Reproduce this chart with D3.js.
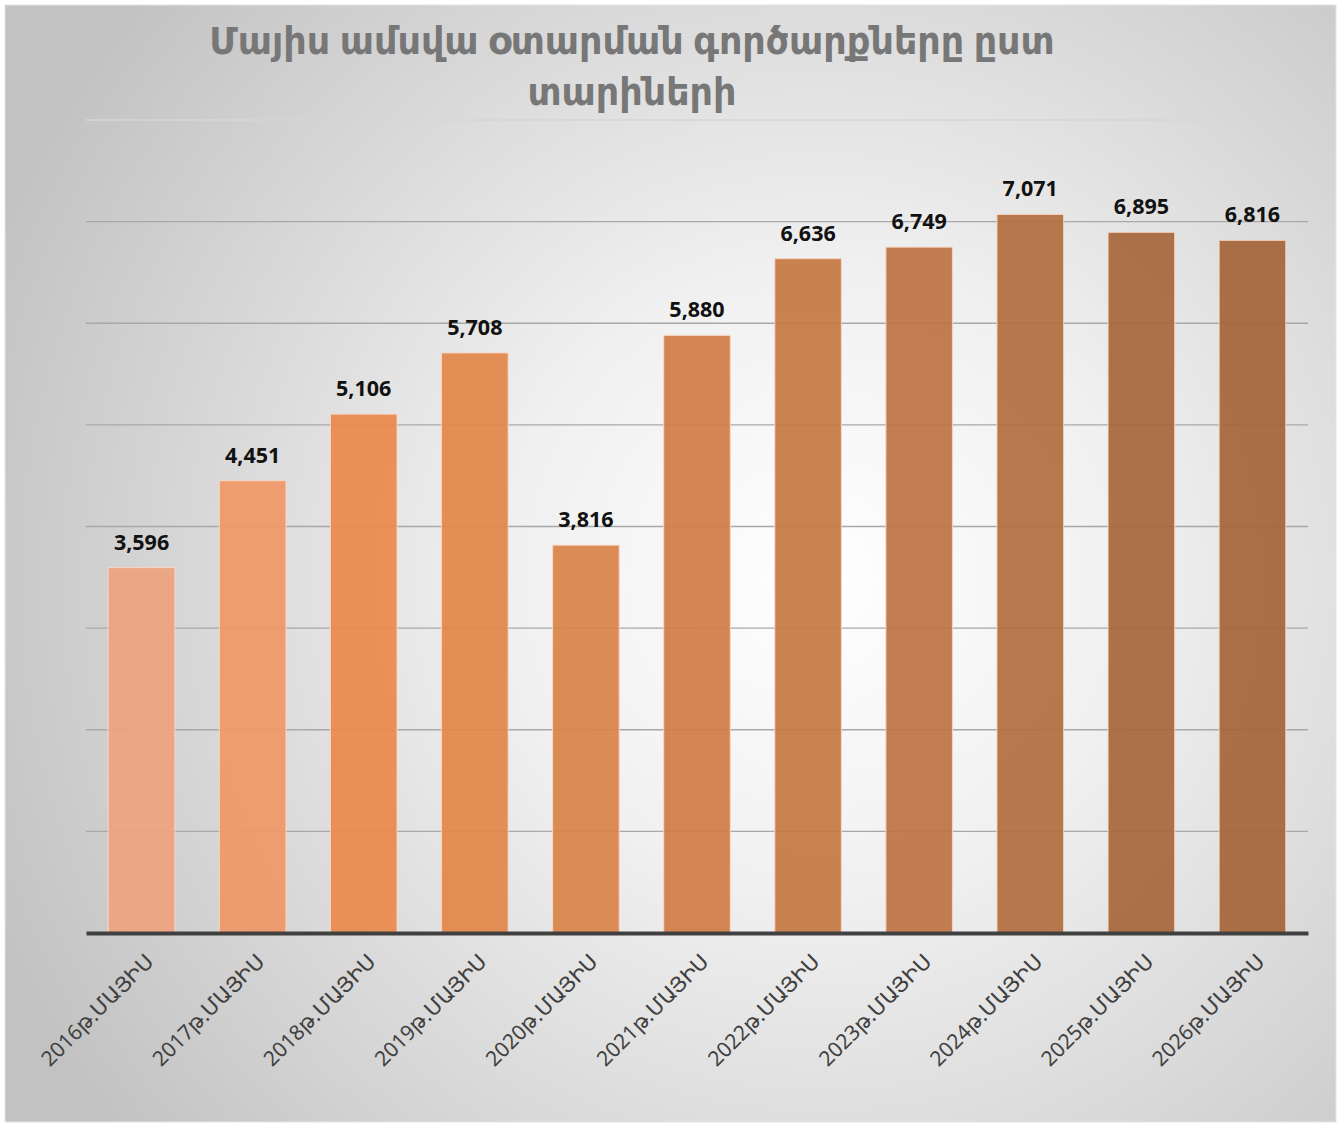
<!DOCTYPE html>
<html>
<head>
<meta charset="utf-8">
<script src="https://cdn.jsdelivr.net/npm/d3@7"></script>
<style>
  html, body { margin: 0; padding: 0; background: #ffffff; }
  svg { display: block; }
</style>
</head>
<body>
<script>
const categories = ["2016թ.ՄԱՅԻՍ","2017թ.ՄԱՅԻՍ","2018թ.ՄԱՅԻՍ","2019թ.ՄԱՅԻՍ","2020թ.ՄԱՅԻՍ","2021թ.ՄԱՅԻՍ","2022թ.ՄԱՅԻՍ","2023թ.ՄԱՅԻՍ","2024թ.ՄԱՅԻՍ","2025թ.ՄԱՅԻՍ","2026թ.ՄԱՅԻՍ"];
const values = [3596, 4451, 5106, 5708, 3816, 5880, 6636, 6749, 7071, 6895, 6816];
const barColors = ["#eca27f","#ee9866","#e98a4d","#e18649","#d98348","#d07d46","#c77944","#bd7443","#b36e41","#a7673c","#a5653a"];
const yTicks = [0,1000,2000,3000,4000,5000,6000,7000,8000];
const titleLines = ["Մայիս ամսվա օտարման գործարքները ըստ", "տարիների"];

const W = 1341, H = 1124;
const svg = d3.select("body").append("svg").attr("width", W).attr("height", H);
const defs = svg.append("defs");
const rg = defs.append("radialGradient").attr("id","bg")
  .attr("gradientUnits","userSpaceOnUse")
  .attr("cx", 820).attr("cy", 580).attr("r", 900);
rg.append("stop").attr("offset","0%").attr("stop-color","#ffffff");
rg.append("stop").attr("offset","35%").attr("stop-color","#f0f0f0");
rg.append("stop").attr("offset","100%").attr("stop-color","#c2c2c2");

svg.append("rect").attr("x",5).attr("y",5).attr("width",1331).attr("height",1117)
  .attr("fill","url(#bg)").attr("stroke","#e4e4e4").attr("stroke-width",1);

const m = {left: 86, right: 1308, top: 120, bottom: 933};
const x = d3.scaleBand().domain(categories).range([m.left, m.right]).paddingInner(0.4).paddingOuter(0.2);
const y = d3.scaleLinear().domain([0, 8000]).range([m.bottom, m.top]);

// gridlines
svg.append("g").selectAll("line").data(yTicks.filter(d => d > 0)).join("line")
  .attr("x1", m.left).attr("x2", m.right)
  .attr("y1", d => y(d)).attr("y2", d => y(d))
  .attr("stroke", d => d === 8000 ? "#d6d6d6" : "#a8a8a8").attr("stroke-width", 1.3);

// bars
svg.append("g").selectAll("rect").data(values).join("rect")
  .attr("x", (d,i) => x(categories[i]))
  .attr("y", d => y(d))
  .attr("width", x.bandwidth())
  .attr("height", d => y(0) - y(d))
  .attr("fill", (d,i) => barColors[i])
  .attr("fill-opacity", 0.93)
  .attr("stroke", "#f6d9c8").attr("stroke-opacity", 0.8).attr("stroke-width", 1.2);

// value labels
svg.append("g").selectAll("text").data(values).join("text")
  .attr("x", (d,i) => x(categories[i]) + x.bandwidth()/2)
  .attr("y", d => y(d) - 18)
  .attr("text-anchor","middle")
  .attr("font-family","'Open Sans', sans-serif")
  .attr("font-weight","bold").attr("font-size", 21.5).attr("fill","#111")
  .text(d => d3.format(",")(d));

// baseline axis
const xAxis = d3.axisBottom(x).tickSize(0).tickPadding(0);
const gx = svg.append("g").attr("transform", `translate(0,${m.bottom})`).call(xAxis);
gx.select(".domain").attr("stroke","#404040").attr("stroke-width",4);
gx.selectAll(".tick text")
  .attr("font-family","'Noto Sans', sans-serif").attr("font-size", 21).attr("fill","#404040")
  .attr("text-anchor","end")
  .attr("dy", null).attr("y", 0)
  .attr("transform", "translate(13,30) rotate(-45)");

// title
const t = svg.append("text").attr("text-anchor","middle")
  .attr("font-family","'Noto Sans', 'DejaVu Sans', sans-serif")
  .attr("font-weight","bold").attr("font-size", 36.5).attr("fill","#777777");
titleLines.forEach((s,i) => {
  t.append("tspan").attr("x", 632).attr("y", 54 + i*51).text(s);
});
</script>
</body>
</html>
